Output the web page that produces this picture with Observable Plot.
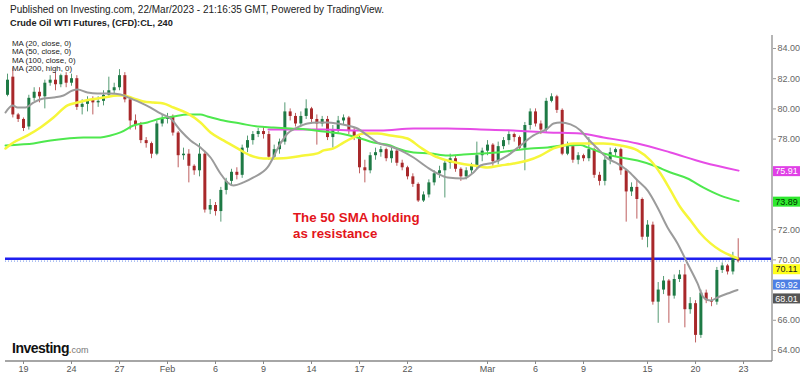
<!DOCTYPE html>
<html>
<head>
<meta charset="utf-8">
<script src="https://cdn.jsdelivr.net/npm/d3@7"></script>
<script src="https://cdn.jsdelivr.net/npm/@observablehq/plot@0.6"></script>
<style>
  html, body { margin: 0; padding: 0; background: #fff; }
  #wrap { position: relative; width: 800px; height: 376px; overflow: hidden; font-family: "Liberation Sans Narrow", "Liberation Sans", Arial, sans-serif; }
  .hdr { position: absolute; left: 10px; white-space: nowrap; color: #222; }
  #l1 { top: 4px; font-size: 10px; }
  #l2 { top: 18px; font-size: 9.2px; font-weight: bold; }
  #legend { position: absolute; left: 12px; top: 40px; font-size: 7.9px; line-height: 8.3px; color: #222; white-space: nowrap; }
  #legend div { height: 8.3px; }
  #note { position: absolute; left: 293px; top: 210px; font-family: "Liberation Sans", Arial, sans-serif; font-size: 13.3px; font-weight: bold; color: #e3151b; line-height: 16px; white-space: nowrap; }
  #logo { position: absolute; left: 12px; top: 339px; font-family: "Liberation Sans", Arial, sans-serif; white-space: nowrap; }
  #logo b { font-size: 14px; font-weight: 900; color: #111; letter-spacing: -0.5px; }
  #logo span { font-size: 9px; color: #777; }
  #logo i { font-style: normal; font-weight: bold; color: #f5a100; font-size: 9.5px; }
  svg { position: absolute; left: 0; top: 0; }
</style>
</head>
<body>
<div id="wrap">
  <div id="chart"></div>
  <div class="hdr" id="l1">Published on Investing.com, 22/Mar/2023 - 21:16:35 GMT, Powered by TradingView.</div>
  <div class="hdr" id="l2">Crude Oil WTI Futures, (CFD):CL, 240</div>
  <div id="legend"></div>
  <div id="note">The 50 SMA holding<br>as resistance</div>
  <div id="logo"><b>Investing</b><i>.</i><span>com</span></div>
</div>
<script>
// ---- Candles (4h-ish bars, 3 per trading day, trading-day index 0 = Jan 19) ----
const firstCandleDay = -1;
const candlesPerDay = 3;
const open = [80.9,82.1,79.6,79.3,78.8,80.7,81.1,80.8,81.7,81.9,81.6,82.2,81.7,82.0,80.1,80.3,80.6,80.4,80.5,80.9,
81.2,81.4,82.2,80.6,79.2,78.9,77.9,77.7,77.0,79.0,79.3,79.5,78.4,76.9,77.0,76.2,75.9,77.0,73.3,73.6,
73.2,74.6,75.2,75.8,75.6,77.4,77.9,78.3,78.5,78.3,76.8,77.3,77.8,79.8,79.5,79.0,79.5,80.0,79.3,79.0,
79.3,78.1,78.6,79.2,79.4,78.5,78.1,76.1,75.9,76.9,77.1,77.3,76.7,77.2,76.4,76.1,75.5,75.0,73.9,74.3,
75.1,75.7,75.9,76.4,76.7,76.0,75.5,75.9,76.2,76.9,77.2,77.6,76.5,77.5,77.9,78.3,78.1,77.4,78.9,79.8,
79.0,78.6,80.5,80.8,79.9,77.0,77.5,76.6,76.9,76.7,77.3,75.6,75.2,76.6,77.1,77.3,75.9,74.5,74.8,74.0,
71.5,72.3,67.2,68.0,68.6,67.6,68.7,69.0,66.7,67.1,65.0,67.8,67.3,67.2,69.3,69.6,69.2,70.1];
const high = [82.3,82.7,79.7,79.4,80.9,81.4,81.4,81.9,82.2,82.4,82.3,82.4,82.3,82.2,80.6,80.8,80.8,80.8,81.2,82.1,
81.7,82.6,82.4,80.8,79.6,79.1,78.1,77.8,79.2,79.6,79.7,79.6,78.5,77.4,77.3,76.3,77.7,77.2,74.0,73.8,
74.8,75.4,76.0,76.1,77.6,78.2,78.5,78.7,78.8,78.5,77.6,78.0,80.4,80.0,79.7,79.8,80.6,80.1,79.6,79.5,
79.5,78.9,79.5,79.6,79.5,78.7,78.2,76.6,77.1,77.4,77.5,77.4,77.4,77.3,76.6,76.2,75.7,75.1,74.5,75.3,
75.9,76.2,76.6,77.0,76.9,76.1,76.1,76.4,77.8,77.4,77.9,77.7,77.8,78.1,78.5,78.4,78.2,79.1,80.0,80.0,
79.2,80.7,81.0,80.9,80.0,77.8,77.6,77.1,77.0,78.1,77.4,75.8,76.8,77.4,77.4,77.4,76.0,75.1,75.3,74.1,
72.6,72.5,68.5,68.9,68.7,69.0,69.3,69.7,67.5,67.3,68.0,68.0,67.5,69.5,69.8,69.7,70.5,71.4];
const low = [80.8,79.4,79.1,78.5,78.6,80.5,80.4,80.0,81.5,81.2,81.4,81.4,81.5,79.9,79.6,79.8,79.6,80.1,80.2,80.7,
81.0,81.2,80.4,78.6,78.6,77.7,77.4,76.7,76.9,78.8,79.0,78.2,76.1,76.6,75.1,75.6,75.5,73.1,73.0,72.9,
72.5,74.3,74.9,75.3,75.4,77.1,77.6,78.1,78.0,76.6,76.6,77.0,77.6,79.2,78.8,78.9,79.3,79.0,77.6,78.8,
77.9,77.4,78.4,78.9,78.3,77.9,75.7,75.1,75.7,76.6,76.8,76.5,76.4,76.2,75.9,75.3,74.8,73.8,73.8,74.1,
74.9,75.4,74.1,76.0,75.8,75.2,75.3,75.7,76.0,76.5,76.9,76.2,76.3,77.3,77.6,77.8,77.3,75.9,78.6,78.8,
78.3,78.4,80.4,79.7,76.9,76.9,76.4,76.3,76.5,76.5,75.4,74.9,74.9,76.3,76.8,75.6,72.5,74.2,72.7,71.3,
70.8,67.0,65.8,67.7,65.8,67.4,68.5,65.5,66.4,64.5,64.8,67.1,66.9,67.0,69.1,69.0,69.0,69.8];
const close = [81.9,79.6,79.3,78.7,80.7,81.1,80.8,81.7,81.9,81.6,82.2,81.7,82.0,80.1,80.3,80.6,80.4,80.5,80.9,81.2,
81.4,82.2,80.6,79.2,78.9,77.9,77.7,77.0,79.0,79.3,79.5,78.4,76.9,77.0,76.2,75.9,77.0,73.3,73.6,73.2,
74.6,75.2,75.8,75.6,77.4,77.9,78.3,78.5,78.3,76.8,77.3,77.8,79.8,79.5,79.0,79.5,80.0,79.3,79.0,79.3,
78.1,78.6,79.2,79.4,78.5,78.1,76.1,75.9,76.9,77.1,77.3,76.7,77.2,76.4,76.1,75.5,75.0,73.9,74.3,75.1,
75.7,75.9,76.4,76.7,76.0,75.5,75.9,76.2,76.9,77.2,77.6,76.5,77.5,77.9,78.3,78.1,77.4,78.9,79.8,79.0,
78.6,80.5,80.8,79.9,77.0,77.5,76.6,76.9,76.7,77.3,75.6,75.2,76.6,77.1,77.3,75.9,74.5,74.8,74.0,71.5,
72.3,67.2,68.0,68.6,67.6,68.7,69.0,66.7,67.1,65.0,67.8,67.3,67.2,69.3,69.6,69.2,70.1,69.92];

// ---- Moving averages, sampled [trading-day index, price] ----
const ma20 = [[-1.125,79.76],[-0.69,80.23],[-0.375,80.09],[0.125,80.09],[0.625,80.42],[1.25,80.69],[1.875,80.75],[2.5,80.89],
[3.06,81.22],[3.375,81.28],[4,81.09],[4.625,81.02],[5.44,81.02],[6.06,80.95],[6.69,80.69],[7.31,80.42],[7.94,80.09],
[8.56,79.70],[9.19,79.36],[9.81,78.57],[10.44,77.91],[11.06,77.44],[11.69,76.78],[12.31,75.72],[12.75,75.13],[13.125,74.93],
[13.75,75.13],[14.375,75.46],[15.25,76.12],[16.06,77.71],[16.5,78.37],[17.125,78.77],[17.75,79.03],[18.375,79.10],[19,79.10],
[19.625,79.03],[20.25,78.90],[20.875,78.70],[21.5,78.24],[22.125,77.77],[22.94,77.51],[23.56,77.25],[24.375,76.78],[25.25,76.12],
[25.875,75.72],[26.5,75.46],[27.5,75.39],[28.125,75.79],[28.56,76.25],[29.375,76.45],[30.25,76.91],[31.06,77.58],[31.875,78.24],
[32.75,78.70],[33.125,79.03],[33.56,79.10],[34.19,78.97],[34.81,78.57],[35.25,78.04],[35.875,77.38],[36.5,76.72],[37.125,76.38],
[37.75,75.92],[38.375,75.26],[39,74.60],[39.625,73.47],[40.25,72.15],[40.875,71.09],[41.5,69.76],[42.125,68.44],[42.5,67.51],
[42.94,67.31],[43.375,67.51],[44,67.77],[44.625,68.01]];
const ma50 = [[-1.125,77.38],[-0.625,77.77],[0.25,78.24],[1.06,78.77],[1.875,79.43],[2.75,80.23],[3.375,80.42],[4.19,80.62],
[5,80.75],[5.875,80.89],[6.25,80.89],[6.875,80.69],[7.5,80.49],[8.125,80.42],[8.75,80.36],[9.375,80.09],[10.25,79.70],[11.06,79.10],
[11.69,78.44],[12.5,77.91],[13.375,77.38],[14.19,76.91],[15,76.72],[15.875,76.72],[16.69,76.78],[17.5,76.91],[18.375,77.05],
[18.75,77.25],[19.375,77.38],[20,77.77],[20.625,78.11],[21.25,78.37],[22.125,78.37],[22.94,78.24],[24,78.04],[24.81,77.44],
[25.625,76.91],[26.5,76.58],[27.31,76.38],[28.125,76.25],[29,76.12],[29.81,76.25],[30.625,76.38],[31.5,76.58],[32.31,76.91],
[33.125,77.38],[33.75,77.58],[34.375,77.71],[35,77.71],[36.25,77.71],[37.31,77.58],[38.375,77.25],[39.19,76.58],[39.81,75.72],
[40.44,74.60],[41.06,73.47],[41.69,72.61],[42.31,71.75],[42.94,71.09],[43.56,70.62],[44.19,70.29],[44.625,70.11]];
const ma100 = [[-1.125,77.58],[-0.19,77.64],[0.625,77.71],[1.69,77.91],[2.75,78.04],[3.75,78.11],[4.81,78.11],[5.44,78.24],
[6.06,78.44],[6.875,78.90],[7.75,79.10],[8.56,79.36],[9.375,79.50],[10.25,79.63],[11.06,79.63],[11.5,79.50],[12.5,79.23],
[13.56,79.03],[14.625,78.83],[15.625,78.77],[16.69,78.70],[17.75,78.64],[18.75,78.50],[19.81,78.37],[20.875,78.11],[21.875,77.77],
[22.94,77.58],[23.375,77.38],[24.375,77.11],[25.44,77.05],[26.5,76.91],[27.5,76.98],[28.56,77.05],[29.625,77.11],[30.625,77.25],
[31.69,77.38],[32.75,77.44],[33.75,77.58],[34.81,77.60],[35.25,77.45],[36.25,77.05],[37.31,76.78],[38.375,76.58],[39.375,76.25],
[40.44,75.79],[41.5,75.39],[42.5,74.79],[43.56,74.26],[44.69,73.89]];
const ma200 = [[15.31,78.64],[16.69,78.64],[18.75,78.64],[20.875,78.57],[22.31,78.57],[24.375,78.70],[26.5,78.70],[28.56,78.64],
[30.625,78.57],[32.75,78.44],[34.81,78.37],[36.25,78.11],[38.375,77.71],[40.44,77.11],[42.5,76.45],[44.69,75.91]];

const maNames = ["MA (20, close, 0)", "MA (50, close, 0)", "MA (100, close, 0)", "MA (200, high, 0)"];

// ---- Levels and labels ----
const resistanceLevel = 70.08;
const lastPrice = 69.92;
const priceLabels = [75.91, 73.89, 70.11, 69.92, 68.01];

// ---- Axes (ticks hidden behind the price labels are left out) ----
const xTickDays = [0, 3, 6, 9, 12, 15, 18, 21, 24, 29, 32, 35, 39, 42, 45];
const xTickLabels = ["19", "24", "27", "Feb", "6", "9", "14", "17", "22", "Mar", "6", "9", "15", "20", "23"];
const yTicks = [64, 66, 70, 72, 78, 80, 82, 84];

// ---- build ----
document.getElementById("legend").innerHTML = maNames.map(s => "<div>" + s + "</div>").join("");

const candles = open.map((o, i) => ({
  d: firstCandleDay + i / candlesPerDay, o, h: high[i], l: low[i], c: close[i], up: close[i] >= o
}));
const toPts = arr => arr.map(([d, p]) => ({d, p}));
const upColor = "#1e7a45", downColor = "#a8282a";
const tickLabel = new Map(xTickDays.map((d, i) => [d, xTickLabels[i]]));

const W = 800, H = 376, mL = 5, mR = 28, mT = 35, mB = 15;
const chart = Plot.plot({
  width: W, height: H,
  marginLeft: mL, marginRight: mR, marginTop: mT, marginBottom: mB,
  style: {fontFamily: "'Liberation Sans', Arial, sans-serif", fontSize: "9px", color: "#666", background: "transparent"},
  x: {domain: [-1.125, 46.81]},
  y: {domain: [63.27, 84.86]},
  marks: [
    Plot.axisY({anchor: "right", ticks: yTicks, tickFormat: d => d.toFixed(2), tickSize: 3, tickPadding: 2, label: null, fill: "#666", stroke: "#999"}),
    Plot.axisX({anchor: "bottom", ticks: xTickDays, tickFormat: d => tickLabel.get(d), tickSize: 3, tickPadding: 1, label: null, fill: "#555", stroke: "#888",
      fontWeight: d => (tickLabel.get(d) === "Feb" || tickLabel.get(d) === "Mar") ? "bold" : "normal"}),
    Plot.ruleY([resistanceLevel], {stroke: "#1f1fef", strokeWidth: 2.5}),
    Plot.ruleY([lastPrice], {stroke: "#6d8fe8", strokeWidth: 1, strokeDasharray: "1,2"}),
    Plot.ruleX(candles, {x: "d", y1: "l", y2: "h", stroke: d => d.up ? upColor : downColor, strokeWidth: 1, strokeOpacity: 0.75}),
    Plot.ruleX(candles, {x: "d", y1: "o", y2: "c", stroke: d => d.up ? upColor : downColor, strokeWidth: 3}),
    Plot.line(toPts(ma200), {x: "d", y: "p", stroke: "#e64ce6", strokeWidth: 2, curve: "monotone-x"}),
    Plot.line(toPts(ma100), {x: "d", y: "p", stroke: "#4ee84e", strokeWidth: 2, curve: "monotone-x"}),
    Plot.line(toPts(ma50), {x: "d", y: "p", stroke: "#f6f63a", strokeWidth: 2.5, curve: "monotone-x"}),
    Plot.line(toPts(ma20), {x: "d", y: "p", stroke: "#9b9b9b", strokeWidth: 2, curve: "monotone-x"})
  ]
});
document.getElementById("chart").appendChild(chart);

// frame lines (right & bottom axis rules)
const svg = d3.select(chart);
svg.append("line").attr("x1", W - mR).attr("x2", W - mR).attr("y1", mT).attr("y2", H - mB)
  .attr("stroke", "#b5b5b5").attr("stroke-width", 2);
svg.append("line").attr("x1", mL).attr("x2", W - mR).attr("y1", H - mB).attr("y2", H - mB)
  .attr("stroke", "#888").attr("stroke-width", 1.5);

// price labels on the right axis, placed with the plot's own y scale
const ys = chart.scale("y");
const yf = ys.apply ? (v => ys.apply(v)) : d3.scaleLinear(ys.domain, ys.range);
const labelFill = ["#e040e6", "#2ee82e", "#ffff1a", "#4e7fe4", "#555555"];
const labelText = ["#ffffff", "#003300", "#222222", "#ffffff", "#ffffff"];
const labelShift = [1, 1, 11.5, 24, 9];
priceLabels.forEach((v, i) => {
  const cy = yf(v) + labelShift[i];
  const g = svg.append("g");
  g.append("rect").attr("x", W - mR + 1).attr("y", cy - 5).attr("width", mR - 1).attr("height", 10).attr("fill", labelFill[i]);
  g.append("text").attr("x", W - mR / 2 + 0.5).attr("y", cy + 3.2).attr("text-anchor", "middle")
    .style("fill", labelText[i]).style("font-size", "9px")
    .style("font-family", "'Liberation Sans', Arial, sans-serif").text(v.toFixed(2));
});
</script>
</body>
</html>
